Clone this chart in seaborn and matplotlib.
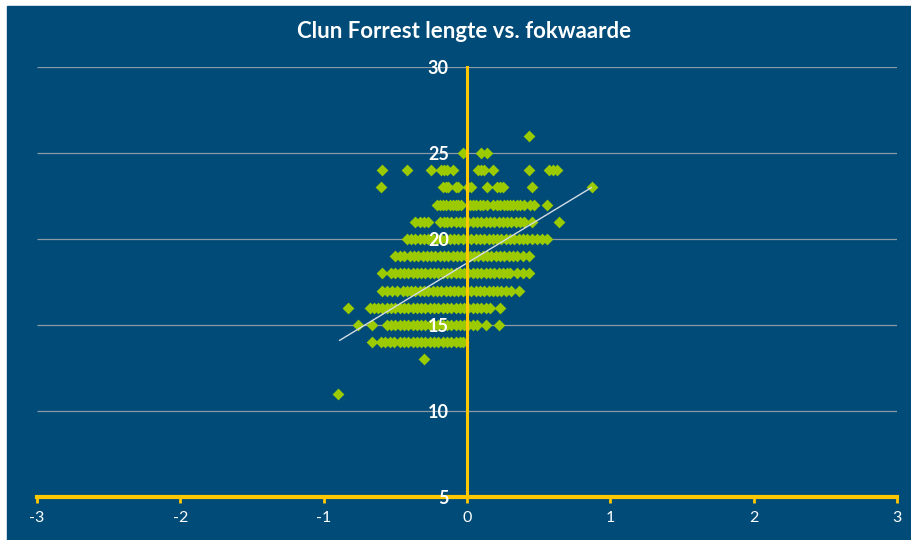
import matplotlib
matplotlib.use('Agg')
import matplotlib.pyplot as plt
import seaborn as sns
import pandas as pd
from matplotlib.patches import Rectangle

# fokwaarde (x) per lengte (y) row
rows = {
    26: [0.43],
    25: [-0.03, 0.10, 0.14],
    24: [-0.59, -0.42, -0.25, -0.18, -0.16, -0.14, -0.10, 0.08, 0.10, 0.12,
         0.18, 0.43, 0.57, 0.60, 0.63],
    23: [-0.60, -0.17, -0.15, -0.13, -0.08, -0.06, 0.01, 0.03, 0.14, 0.21,
         0.23, 0.25, 0.45, 0.87],
    22: [-0.21, -0.19, -0.17, -0.15, -0.12, -0.10, -0.08, -0.06, -0.04,
         0.02, 0.04, 0.06, 0.09, 0.11, 0.14, 0.18, 0.21, 0.23, 0.26, 0.28,
         0.30, 0.32, 0.35, 0.37, 0.40, 0.44, 0.47, 0.56],
    21: [-0.36, -0.33, -0.30, -0.27, -0.19, -0.16, -0.14, -0.11, -0.08, -0.05,
         -0.02, 0.01, 0.04, 0.07, 0.10, 0.13, 0.16, 0.19, 0.22, 0.25, 0.28,
         0.31, 0.34, 0.37, 0.40, 0.45, 0.64],
    20: [-0.42, -0.39, -0.36, -0.33, -0.30, -0.27, -0.24, -0.21, -0.18, -0.15,
         -0.12, -0.09, -0.06, -0.03, 0.00, 0.03, 0.06, 0.09, 0.12, 0.15, 0.18,
         0.21, 0.24, 0.27, 0.30, 0.33, 0.36, 0.39, 0.42, 0.45, 0.49, 0.52, 0.56],
    19: [-0.50, -0.47, -0.44, -0.40, -0.37, -0.34, -0.31, -0.28, -0.25, -0.22,
         -0.19, -0.16, -0.13, -0.10, -0.07, -0.04, -0.01, 0.02, 0.05, 0.08,
         0.11, 0.14, 0.17, 0.20, 0.23, 0.26, 0.29, 0.32, 0.35, 0.39, 0.43],
    18: [-0.59, -0.53, -0.50, -0.47, -0.44, -0.41, -0.38, -0.35, -0.32, -0.29,
         -0.26, -0.23, -0.20, -0.17, -0.14, -0.11, -0.08, -0.05, -0.02, 0.01,
         0.04, 0.07, 0.10, 0.13, 0.16, 0.19, 0.22, 0.25, 0.28, 0.30, 0.35,
         0.39, 0.43],
    17: [-0.59, -0.56, -0.52, -0.49, -0.45, -0.42, -0.39, -0.36, -0.33, -0.30,
         -0.27, -0.24, -0.21, -0.18, -0.15, -0.12, -0.09, -0.06, -0.03, 0.00,
         0.03, 0.06, 0.09, 0.12, 0.15, 0.18, 0.21, 0.24, 0.27, 0.31, 0.36],
    16: [-0.83, -0.68, -0.65, -0.62, -0.59, -0.56, -0.53, -0.50, -0.47, -0.44,
         -0.41, -0.38, -0.35, -0.32, -0.29, -0.26, -0.23, -0.20, -0.17, -0.14,
         -0.11, -0.08, -0.05, -0.02, 0.01, 0.04, 0.07, 0.10, 0.13, 0.16, 0.23],
    15: [-0.76, -0.66, -0.56, -0.53, -0.50, -0.47, -0.44, -0.41, -0.38, -0.35,
         -0.32, -0.29, -0.26, -0.23, -0.20, -0.17, -0.14, -0.11, -0.08, -0.05,
         -0.02, 0.01, 0.04, 0.07, 0.13, 0.22],
    14: [-0.66, -0.60, -0.57, -0.54, -0.51, -0.47, -0.44, -0.41, -0.38, -0.35,
         -0.32, -0.29, -0.26, -0.23, -0.20, -0.17, -0.14, -0.11, -0.08, -0.05,
         -0.03],
    13: [-0.30],
    11: [-0.90],
}

trend_x = [-0.89, 0.87]
trend_y = [14.1, 23.0]

title = "Clun Forrest lengte vs. fokwaarde"
x_ticks = [-3, -2, -1, 0, 1, 2, 3]
y_ticks = [5, 10, 15, 20, 25, 30]

navy = '#004B78'
green = '#9BCA00'
yellow = '#FFC800'

df = pd.DataFrame([(x, y) for y, xs in rows.items() for x in xs],
                  columns=['fokwaarde', 'lengte'])

sns.set_theme(style='white')
plt.rcParams['font.family'] = ['Lato', 'DejaVu Sans']

fig = plt.figure(figsize=(9.11, 5.40), dpi=100, facecolor='white')
fig.patches.append(Rectangle((7 / 911, 0), 1, 534 / 540, transform=fig.transFigure,
                             color=navy, zorder=-10))
fig.text(464 / 911, 1 - 32 / 540, title, ha='center', va='center',
         color='white', fontsize=16, fontweight='bold')

ax = fig.add_axes([37 / 911, 43 / 540, 860 / 911, 430 / 540])
ax.set_facecolor(navy)
ax.patch.set_alpha(0)

ax.hlines(y_ticks[1:], x_ticks[0], x_ticks[-1], color='#8C99A6', lw=0.9, zorder=1)

sns.scatterplot(data=df, x='fokwaarde', y='lengte', marker='D', s=36,
                color=green, linewidth=0, ax=ax, zorder=2)
sns.lineplot(x=trend_x, y=trend_y, color='#D5DCE4', lw=1, ax=ax, zorder=2.2)

ax.set_xlim(x_ticks[0], x_ticks[-1])
ax.set_ylim(y_ticks[0], y_ticks[-1])
ax.set_xticks(x_ticks)
ax.set_yticks(y_ticks)
ax.set_xlabel('')
ax.set_ylabel('')

for s in ['top', 'right']:
    ax.spines[s].set_visible(False)
ax.spines['left'].set_position(('data', 0))
ax.spines['left'].set_color(yellow)
ax.spines['left'].set_linewidth(2.2)
ax.spines['left'].set_zorder(3)
ax.spines['bottom'].set_color(yellow)
ax.spines['bottom'].set_linewidth(3)
ax.spines['bottom'].set_zorder(3)

ax.tick_params(axis='x', direction='out', length=4, width=2, color=yellow,
               labelcolor='white', pad=6, bottom=True)
ax.tick_params(axis='y', length=0, labelcolor='white', pad=13, left=True)
ax.set_yticks([y_ticks[-1]], minor=True)
ax.tick_params(axis='y', which='minor', direction='out', length=4, width=2.2,
               color=yellow, left=True, labelleft=False)
ax.yaxis.set_zorder(3)
ax.xaxis.set_zorder(3)

# fonts of the tick labels, set once the ticks exist
fig.canvas.draw()
ax.set_xticklabels([str(t) for t in x_ticks], fontsize=11.5, color='white')
ax.set_yticklabels([str(t) for t in y_ticks], fontsize=13,
                   fontweight='bold', color='white')

fig.savefig('out.png', dpi=100)
